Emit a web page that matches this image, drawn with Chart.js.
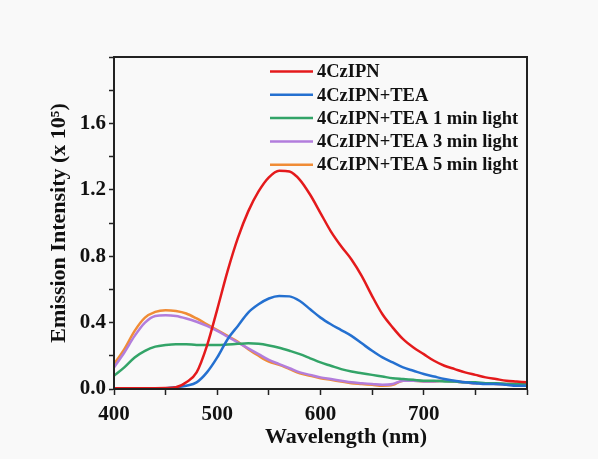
<!DOCTYPE html>
<html>
<head>
<meta charset="utf-8">
<title>Emission spectra</title>
<script src="https://cdn.jsdelivr.net/npm/chart.js@4.4.1/dist/chart.umd.min.js"></script>
<style>
    html, body { margin: 0; padding: 0; background: #f9f9f9; }
    .chart-box { width: 598px; height: 459px; }
</style>
</head>
<body>
<div class="chart-box"><canvas id="emissionChart" width="598" height="459"></canvas></div>
<script>
// Wavelengths (nm)
const wavelengths = [400, 410, 420, 430, 440, 450, 460, 470, 480, 490,
    500, 510, 520, 530, 540, 550, 560, 570, 580, 590,
    600, 610, 620, 630, 640, 650, 660, 670, 680, 690,
    700, 710, 720, 730, 740, 750, 760, 770, 780, 790, 800];

// Emission intensity (x 10^5)
const czipn = [0.005, 0.005, 0.005, 0.005, 0.005, 0.006, 0.01, 0.04, 0.10, 0.26,
    0.48, 0.71, 0.91, 1.07, 1.19, 1.275, 1.315, 1.31, 1.26, 1.17,
    1.06, 0.95, 0.86, 0.78, 0.68, 0.56, 0.45, 0.37, 0.30, 0.25,
    0.21, 0.17, 0.14, 0.12, 0.10, 0.085, 0.07, 0.06, 0.05, 0.045, 0.04];

const czipnTea = [0.005, 0.005, 0.005, 0.005, 0.005, 0.005, 0.01, 0.02, 0.04, 0.10,
    0.19, 0.30, 0.38, 0.46, 0.51, 0.545, 0.56, 0.558, 0.53, 0.48,
    0.43, 0.39, 0.355, 0.32, 0.275, 0.23, 0.19, 0.16, 0.13, 0.11,
    0.09, 0.075, 0.06, 0.05, 0.04, 0.035, 0.03, 0.03, 0.025, 0.02, 0.02];

const tea1min = [0.08, 0.13, 0.19, 0.23, 0.255, 0.265, 0.27, 0.27, 0.265, 0.265,
    0.265, 0.268, 0.272, 0.275, 0.272, 0.262, 0.248, 0.23, 0.21, 0.185,
    0.16, 0.14, 0.12, 0.105, 0.095, 0.085, 0.075, 0.065, 0.06, 0.055,
    0.05, 0.05, 0.045, 0.045, 0.04, 0.04, 0.035, 0.035, 0.03, 0.03, 0.03];

const tea3min = [0.13, 0.22, 0.32, 0.40, 0.44, 0.445, 0.44, 0.425, 0.405, 0.38,
    0.35, 0.315, 0.28, 0.245, 0.21, 0.175, 0.15, 0.125, 0.10, 0.085,
    0.07, 0.06, 0.05, 0.04, 0.035, 0.03, 0.025, 0.03, 0.05, 0.05,
    0.045, 0.045, 0.05, 0.045, 0.04, 0.035, 0.035, 0.03, 0.03, 0.03, 0.03];

const tea5min = [0.15, 0.24, 0.35, 0.43, 0.465, 0.475, 0.47, 0.455, 0.425, 0.39,
    0.355, 0.32, 0.285, 0.24, 0.20, 0.165, 0.145, 0.12, 0.095, 0.08,
    0.065, 0.055, 0.045, 0.035, 0.03, 0.025, 0.02, 0.025, 0.05, 0.05,
    0.045, 0.045, 0.05, 0.045, 0.04, 0.035, 0.035, 0.03, 0.03, 0.03, 0.03];

const seriesLabels = ['4CzIPN', '4CzIPN+TEA', '4CzIPN+TEA 1 min light', '4CzIPN+TEA 3 min light', '4CzIPN+TEA 5 min light'];
const seriesValues = [czipn, czipnTea, tea1min, tea3min, tea5min];
const seriesColors = ['#e41a1c', '#2470d0', '#33a468', '#b27ddc', '#f08c36'];

const xTickLabels = [400, 500, 600, 700];
const yTickLabels = [0, 0.4, 0.8, 1.2, 1.6];

const serif = "'Liberation Serif', 'Times New Roman', serif";

// Frame, legend and x title
const extrasPlugin = {
    id: 'extras',
    afterDraw(chart) {
        const ctx = chart.ctx;
        const area = chart.chartArea;
        ctx.save();
        ctx.strokeStyle = '#222';
        ctx.lineWidth = 2;
        ctx.strokeRect(area.left, area.top, area.right - area.left, area.bottom - area.top);

        // Legend inside the plot
        ctx.font = 'bold 18.5px ' + serif;
        ctx.textBaseline = 'middle';
        ctx.textAlign = 'left';
        chart.data.datasets.forEach((ds, i) => {
            const y = 71.5 + i * 23.3;
            ctx.strokeStyle = ds.borderColor;
            ctx.lineWidth = 2.5;
            ctx.beginPath();
            ctx.moveTo(270, y);
            ctx.lineTo(313, y);
            ctx.stroke();
            ctx.fillStyle = '#111';
            ctx.fillText(ds.label, 317, y + 1);
        });

        // X axis title
        ctx.font = 'bold 22px ' + serif;
        ctx.textAlign = 'center';
        ctx.fillText('Wavelength (nm)', 346, 437);
        ctx.restore();
    }
};

const ctx = document.getElementById('emissionChart').getContext('2d');
const emissionChart = new Chart(ctx, {
    type: 'line',
    data: {
        datasets: seriesValues.map((vals, i) => ({
            label: seriesLabels[i],
            data: wavelengths.map((w, j) => ({ x: w, y: vals[j] })),
            borderColor: seriesColors[i],
            backgroundColor: seriesColors[i],
            borderWidth: 2.5,
            pointRadius: 0,
            tension: 0.4,
            cubicInterpolationMode: 'monotone',
            fill: false
        }))
    },
    options: {
        responsive: false,
        animation: false,
        layout: {
            padding: { top: 57, right: 71, left: 0, bottom: 0 }
        },
        plugins: {
            legend: { display: false },
            tooltip: { enabled: false }
        },
        scales: {
            x: {
                type: 'linear',
                min: 400,
                max: 800,
                afterFit: function(scale) { scale.height = 70; },
                border: { color: '#222', width: 2 },
                grid: {
                    drawOnChartArea: false,
                    tickLength: 6,
                    tickColor: '#222',
                    tickWidth: 1.5
                },
                ticks: {
                    stepSize: 50,
                    autoSkip: false,
                    maxRotation: 0,
                    padding: 7,
                    color: '#111',
                    font: { family: serif, size: 21, weight: 'bold' },
                    callback: function(value) {
                        return xTickLabels.includes(value) ? String(value) : '';
                    }
                }
            },
            y: {
                min: 0,
                max: 2.0,
                afterFit: function(scale) { scale.width = 114; },
                border: { color: '#222', width: 2 },
                grid: {
                    drawOnChartArea: false,
                    tickLength: 5,
                    tickColor: '#222',
                    tickWidth: 1.5
                },
                ticks: {
                    stepSize: 0.2,
                    autoSkip: false,
                    padding: 3,
                    color: '#111',
                    font: { family: serif, size: 21, weight: 'bold' },
                    callback: function(value) {
                        const v = Math.round(value * 10) / 10;
                        return yTickLabels.includes(v) ? v.toFixed(1) : '';
                    }
                },
                title: {
                    display: true,
                    text: 'Emission Intensity (x 10\u2075)',
                    color: '#111',
                    padding: { top: 46, bottom: 0 },
                    font: { family: serif, size: 22, weight: 'bold' }
                }
            }
        }
    },
    plugins: [extrasPlugin]
});
</script>
</body>
</html>
